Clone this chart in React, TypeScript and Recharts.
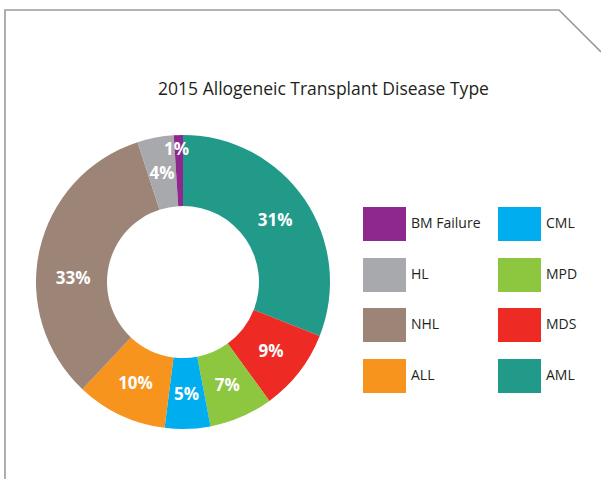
import { PieChart, Pie, Cell, Legend } from 'recharts';

// slices go clockwise from 12 o'clock
const diseases = ['AML', 'MDS', 'MPD', 'CML', 'ALL', 'NHL', 'HL', 'BM Failure'];
const shares = [31, 9, 7, 5, 10, 33, 4, 1];
const colors = ['#219A8A', '#ED2A24', '#8DC63F', '#00AEEF', '#F7941E', '#9C8576', '#A7A9AC', '#8E278E'];
// legend reads down the first column, then the second
const legendOrder = ['BM Failure', 'HL', 'NHL', 'ALL', 'CML', 'MPD', 'MDS', 'AML'];

const data = diseases.map((name, i) => ({ name, value: shares[i] }));

const FONT = '"Open Sans", "Noto Sans", sans-serif';
const RADIAN = Math.PI / 180;

// a couple of labels sit off the mid-ring in the original
const labelNudge: Record<string, [number, number]> = {
  NHL: [-1, 20],
  'BM Failure': [-3, -22],
};

const renderLabel = (props: any) => {
  const { cx, cy, midAngle, innerRadius, outerRadius, value, name } = props;
  const r = (innerRadius + outerRadius) / 2;
  const [nx, ny] = labelNudge[name] || [0, 0];
  const x = cx + r * Math.cos(-midAngle * RADIAN) + nx;
  const y = cy + r * Math.sin(-midAngle * RADIAN) + ny;
  return (
    <text
      x={x}
      y={y}
      fill="#fff"
      textAnchor="middle"
      dominantBaseline="central"
      style={{ fontFamily: FONT, fontSize: 17, fontWeight: 700 }}
    >
      {`${value}%`}
    </text>
  );
};

const LegendGrid = (props: any) => {
  const payload = props.payload || [];
  const items = legendOrder
    .map((n) => payload.find((p: any) => p.value === n))
    .filter(Boolean);
  return (
    <div style={{ position: 'relative', width: 230, height: 190 }}>
      {items.map((item: any, i: number) => {
        const col = Math.floor(i / 4);
        const row = i % 4;
        return (
          <div
            key={item.value}
            style={{
              position: 'absolute',
              left: col * 135,
              top: row * 50.5,
              display: 'flex',
              alignItems: 'center',
              whiteSpace: 'nowrap',
            }}
          >
            <div style={{ width: 43, height: 34, background: item.color }} />
            <span
              style={{
                marginLeft: 5,
                marginTop: -3,
                fontFamily: FONT,
                fontSize: 14,
                color: '#231F20',
              }}
            >
              {item.value}
            </span>
          </div>
        );
      })}
    </div>
  );
};

export default function App() {
  return (
    <div
      style={{
        position: 'absolute',
        left: 0,
        top: 0,
        width: 601,
        height: 479,
        background: '#fff',
      }}
    >
      <svg width={601} height={479} style={{ position: 'absolute', left: 0, top: 0 }}>
        <polyline
          points="5,479 5,10 559,10 601,52"
          fill="none"
          stroke="#9A9A9A"
          strokeWidth={1.6}
        />
      </svg>
      <div
        style={{
          position: 'absolute',
          left: 0,
          width: 647,
          top: 76,
          textAlign: 'center',
          fontFamily: FONT,
          fontSize: 17.5,
          color: '#231F20',
        }}
      >
        2015 Allogeneic Transplant Disease Type
      </div>
      <div style={{ position: 'absolute', left: 0, top: 0 }}>
        <PieChart width={601} height={479} margin={{ top: 0, right: 0, bottom: 0, left: 0 }}>
          <Pie
            data={data}
            dataKey="value"
            nameKey="name"
            cx={183}
            cy={282}
            innerRadius={76}
            outerRadius={147}
            startAngle={90}
            endAngle={-270}
            stroke="none"
            label={renderLabel}
            labelLine={false}
            isAnimationActive={false}
          >
            {data.map((d, i) => (
              <Cell key={d.name} fill={colors[i]} />
            ))}
          </Pie>
          <Legend
            content={LegendGrid}
            wrapperStyle={{ left: 363, top: 207, width: 230, bottom: 'auto' }}
          />
        </PieChart>
      </div>
    </div>
  );
}
